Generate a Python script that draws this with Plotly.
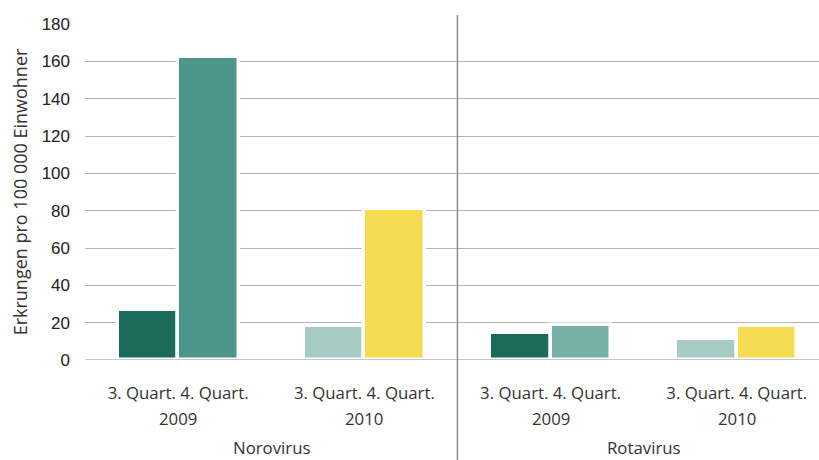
import plotly.graph_objects as go

# Cases per 100 000 inhabitants, by pathogen, year and quarter
viruses = ["Norovirus", "Rotavirus"]
years = ["2009", "2010"]
quarters = ["3. Quart.", "4. Quart."]
norovirus = [27, 162.5, 18, 81]   # 2009 Q3, 2009 Q4, 2010 Q3, 2010 Q4
rotavirus = [14.5, 19, 11, 18]
bar_colors = ["#1a6b5a", "#4d978a", "#a6cbc5", "#f5dc50",
              "#1a6b5a", "#76b0a7", "#a6cbc5", "#f5dc50"]
y_ticks = [0, 20, 40, 60, 80, 100, 120, 140, 160, 180]

GROUP_STEP = 3.08  # distance between year groups, in bar widths
GRID = "#b4b5ba"

values = norovirus + rotavirus
xs, group_centers, group_years = [], [], []
for vi, v in enumerate(viruses):
    for yi, yr in enumerate(years):
        g = vi * len(years) + yi
        c = g * GROUP_STEP
        group_centers.append(c)
        group_years.append(yr)
        for qi in range(len(quarters)):
            xs.append(c + (qi - 0.5))

fig = go.Figure(go.Bar(
    x=xs, y=values, width=1.0,
    marker=dict(color=bar_colors, line=dict(color="white", width=3.5)),
    hoverinfo="skip",
))

txt_font = dict(family="Open Sans", size=16.8, color="#333333")

# year row and pathogen row below the quarter labels
for c, yr in zip(group_centers, group_years):
    fig.add_annotation(x=c, y=0, xref="x", yref="paper", text=yr,
                       showarrow=False, yanchor="middle", yshift=-58,
                       font=txt_font)
for vi, v in enumerate(viruses):
    cx = (group_centers[vi * 2] + group_centers[vi * 2 + 1]) / 2
    fig.add_annotation(x=cx, y=0, xref="x", yref="paper", text=v,
                       showarrow=False, yanchor="middle", yshift=-87,
                       borderpad=0, font=txt_font)

# baseline drawn over the bars' white outlines
fig.add_shape(type="line", xref="paper", yref="y", x0=0, x1=1, y0=0, y1=0,
              line=dict(color=GRID, width=1.3), layer="above")

# separator between the two pathogens
sep = (group_centers[1] + group_centers[2]) / 2
fig.add_shape(type="line", xref="x", yref="paper", x0=sep, x1=sep,
              y0=-0.30, y1=1.027, line=dict(color="#8c8e94", width=1.5),
              layer="above")

fig.update_layout(
    width=819, height=460,
    margin=dict(l=85, r=0, t=24, b=100),
    paper_bgcolor="white", plot_bgcolor="white",
    showlegend=False,
    xaxis=dict(
        range=[-1.54, 3 * GROUP_STEP + 1.36],
        tickvals=group_centers,
        ticktext=[" ".join(quarters)] * len(group_centers),
        tickfont=txt_font,
        showgrid=False, zeroline=False, showline=False,
        ticks="", ticklabelstandoff=21,
    ),
    yaxis=dict(
        range=[0, 180],
        tickvals=y_ticks,
        tickfont=dict(family="Liberation Sans", size=17, color="#222222"),
        showgrid=True, gridcolor=GRID, gridwidth=1.3,
        zeroline=False, showline=False,
        ticks="", ticklabelstandoff=14,
        title=dict(text="Erkrungen pro 100 000 Einwohner",
                   font=dict(family="Open Sans", size=18, color="#333333"),
                   standoff=9),
    ),
    bargap=0,
)

fig.write_html("out.html")
